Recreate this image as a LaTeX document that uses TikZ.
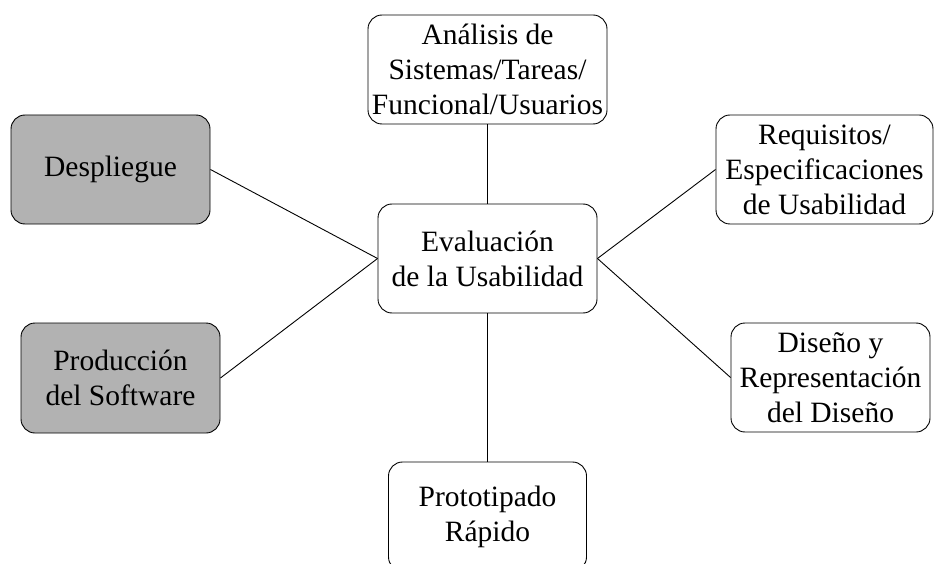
\documentclass[tikz,border=0pt]{standalone}
\usepackage{fontspec}
\setmainfont{Liberation Serif}
\begin{document}
\begin{tikzpicture}[x=1pt,y=-1pt,
  box/.style={draw=black, line width=0.9pt, rounded corners=14pt, align=center,
    inner sep=0pt, font=\fontsize{29.5}{35}\selectfont, fill=white},
  gbox/.style={box, fill=black!30},
  link/.style={draw=black, line width=0.9pt}]
\clip (0,0) rectangle (934,564);
\node[box, minimum width=219pt, minimum height=109pt] (c) at (487.5,258.5) {Evaluación\\de la Usabilidad};
\node[box, minimum width=239pt, minimum height=109pt] (top) at (487.5,69.5) {Análisis de\\Sistemas/Tareas/\\Funcional/Usuarios};
\node[gbox, minimum width=199pt, minimum height=109pt] (desp) at (110.5,169.5) {Despliegue};
\node[gbox, minimum width=199pt, minimum height=110pt] (prod) at (120.5,378) {Producción\\del Software};
\node[box, minimum width=198pt, minimum height=109pt] (proto) at (487.5,516.5) {Prototipado\\Rápido};
\node[box, minimum width=217pt, minimum height=109pt] (req) at (824.5,169.5) {Requisitos/\\Especificaciones\\de Usabilidad};
\node[box, minimum width=199pt, minimum height=109pt] (dis) at (830.5,377.5) {Diseño y\\Representación\\del Diseño};
\draw[link] (c.north) -- (top.south);
\draw[link] (c.south) -- (proto.north);
\draw[link] (c.west) -- (desp.east);
\draw[link] (c.west) -- (prod.east);
\draw[link] (c.east) -- (req.west);
\draw[link] (c.east) -- (dis.west);
\end{tikzpicture}
\end{document}
